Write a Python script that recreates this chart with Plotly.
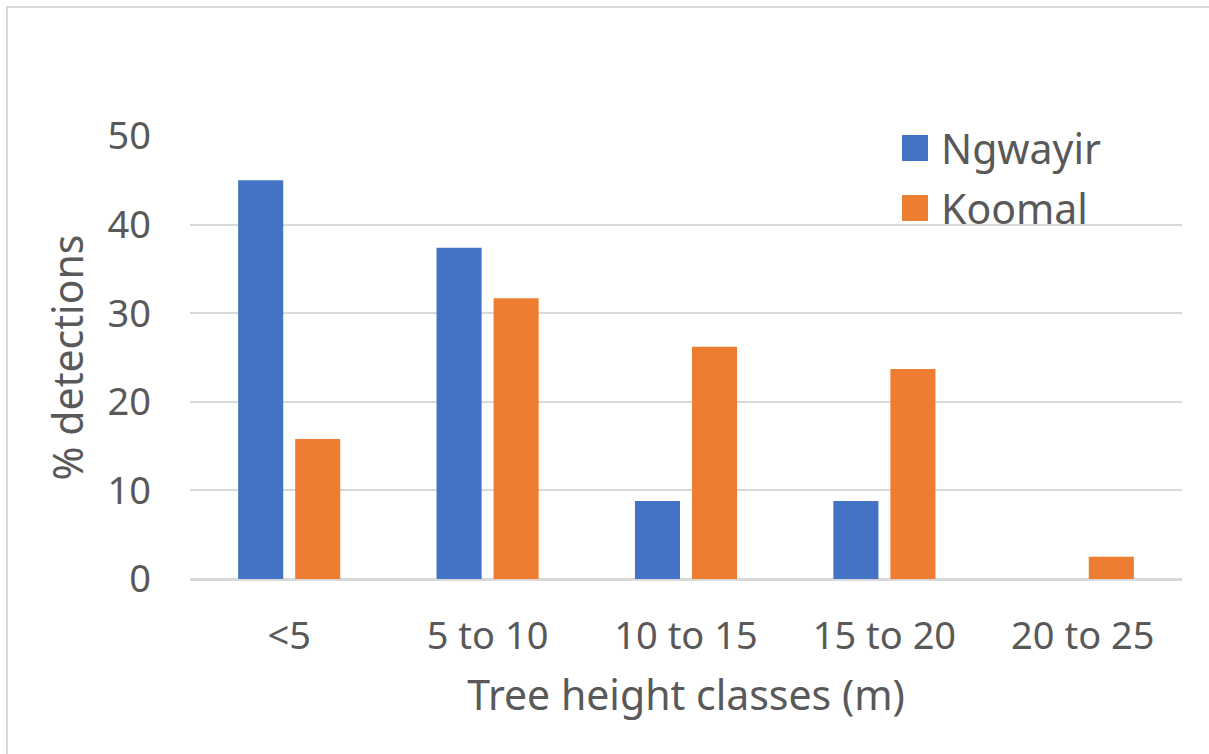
import plotly.graph_objects as go

# Tree height classes and % of detections per site
categories = ["<5", "5 to 10", "10 to 15", "15 to 20", "20 to 25"]
ngwayir = [45.0, 37.4, 8.8, 8.8, 0.0]
koomal = [15.8, 31.7, 26.2, 23.7, 2.5]

series_names = ["Ngwayir", "Koomal"]
series_colors = ["#4472C4", "#ED7D31"]

FONT = "Noto Sans, Open Sans, sans-serif"
TEXT_COLOR = "#595959"
GRID_COLOR = "#D9D9D9"

fig = go.Figure()
for name, vals, color in zip(series_names, [ngwayir, koomal], series_colors):
    fig.add_trace(go.Bar(
        name=name, x=categories, y=vals,
        marker=dict(color=color, line=dict(width=0)),
        showlegend=False,
    ))

fig.update_layout(
    width=1209, height=754,
    margin=dict(l=190, r=27, t=136, b=175, autoexpand=False),
    paper_bgcolor="white", plot_bgcolor="white",
    barmode="group", bargap=0.425, bargroupgap=0.21,
    font=dict(family=FONT, size=38, color=TEXT_COLOR),
    xaxis=dict(
        showgrid=False, showline=True, linecolor=GRID_COLOR, linewidth=2,
        ticks="", ticklabelstandoff=22,
        tickfont=dict(size=38, color=TEXT_COLOR),
        title=dict(text="Tree height classes (m)", standoff=23,
                   font=dict(size=41, color=TEXT_COLOR)),
    ),
    yaxis=dict(
        range=[0, 50], dtick=10, showgrid=True, gridcolor=GRID_COLOR, gridwidth=2,
        zeroline=True, zerolinecolor=GRID_COLOR, zerolinewidth=2,
        showline=False, ticks="", ticklabelstandoff=38,
        tickfont=dict(size=38, color=TEXT_COLOR),
        title=dict(text="% detections", standoff=11,
                   font=dict(size=41, color=TEXT_COLOR)),
    ),
)

# Legend drawn as swatches and labels in the upper right of the plot area
legend_rows = [148, 208]
for name, color, yc in zip(series_names, series_colors, legend_rows):
    fig.add_shape(type="rect", xref="paper", yref="paper",
                  x0=(902 - 190) / 992, x1=(928 - 190) / 992,
                  y0=(579 - (yc + 13)) / 443, y1=(579 - (yc - 13)) / 443,
                  fillcolor=color, line=dict(width=0))
    fig.add_annotation(xref="paper", yref="paper",
                       x=(939 - 190) / 992, y=(579 - yc) / 443,
                       xanchor="left", yanchor="middle", showarrow=False,
                       text=name, font=dict(family=FONT, size=41, color=TEXT_COLOR))

# Light chart frame
fig.add_shape(type="rect", xref="paper", yref="paper",
              x0=(7 - 190) / 992, x1=(1215 - 190) / 992,
              y0=(579 - 760) / 443, y1=(579 - 7) / 443,
              line=dict(color=GRID_COLOR, width=2), fillcolor="rgba(0,0,0,0)",
              layer="below")

fig.write_html("out.html")
